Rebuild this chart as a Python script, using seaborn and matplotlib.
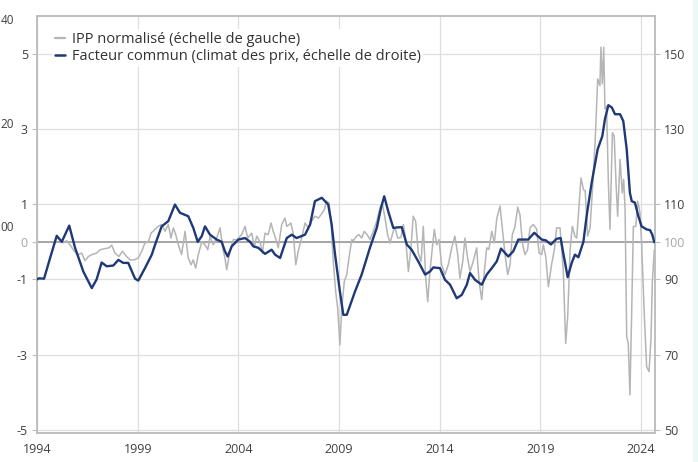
import matplotlib
matplotlib.use("Agg")
import matplotlib.pyplot as plt
from matplotlib.patches import Rectangle
from matplotlib.lines import Line2D
import seaborn as sns

# Normalised producer price index (left axis), decimal years
ipp_years = [
    1995.15, 1995.31, 1995.47, 1995.64, 1995.85, 1996.05, 1996.22, 1996.38, 1996.55, 1996.72,
    1996.96, 1997.13, 1997.38, 1997.57, 1997.71, 1997.87, 1998.07, 1998.24, 1998.45, 1998.62,
    1998.83, 1999.03, 1999.20, 1999.36, 1999.53, 1999.66, 1999.86, 2000.02, 2000.19, 2000.36,
    2000.52, 2000.65, 2000.77, 2000.89, 2001.02, 2001.18, 2001.35, 2001.51, 2001.65, 2001.76,
    2001.88, 2002.01, 2002.18, 2002.34, 2002.48, 2002.59, 2002.75, 2002.92, 2003.09, 2003.22,
    2003.33, 2003.42, 2003.58, 2003.75, 2003.92, 2004.16, 2004.33, 2004.46, 2004.66, 2004.79,
    2004.91, 2005.07, 2005.19, 2005.32, 2005.48, 2005.62, 2005.73, 2005.90, 2005.98, 2006.15,
    2006.31, 2006.40, 2006.51, 2006.61, 2006.73, 2006.85, 2006.97, 2007.14, 2007.31, 2007.47,
    2007.64, 2007.80, 2007.97, 2008.10, 2008.27, 2008.38, 2008.50, 2008.60, 2008.71, 2008.83,
    2008.93, 2009.04, 2009.13, 2009.26, 2009.38, 2009.49, 2009.63, 2009.70, 2009.87, 2009.99,
    2010.12, 2010.25, 2010.42, 2010.53, 2010.70, 2010.87, 2011.03, 2011.14, 2011.28, 2011.41,
    2011.53, 2011.69, 2011.78, 2011.91, 2012.07, 2012.19, 2012.31, 2012.44, 2012.57, 2012.68,
    2012.80, 2012.93, 2013.07, 2013.18, 2013.30, 2013.40, 2013.51, 2013.63, 2013.73, 2013.85,
    2013.96, 2014.09, 2014.26, 2014.42, 2014.59, 2014.75, 2014.89, 2015.00, 2015.14, 2015.25,
    2015.38, 2015.50, 2015.66, 2015.83, 2015.95, 2016.08, 2016.21, 2016.33, 2016.44, 2016.58,
    2016.71, 2016.83, 2016.99, 2017.10, 2017.24, 2017.37, 2017.49, 2017.60, 2017.73, 2017.87,
    2017.98, 2018.10, 2018.23, 2018.36, 2018.48, 2018.64, 2018.81, 2018.93, 2019.06, 2019.14,
    2019.26, 2019.39, 2019.56, 2019.69, 2019.80, 2019.97, 2020.13, 2020.25, 2020.35, 2020.47,
    2020.58, 2020.71, 2020.80, 2020.91, 2021.01, 2021.13, 2021.22, 2021.34, 2021.46, 2021.57,
    2021.71, 2021.84, 2021.95, 2022.00, 2022.07, 2022.14, 2022.20, 2022.28, 2022.37, 2022.45,
    2022.57, 2022.66, 2022.75, 2022.83, 2022.95, 2023.06, 2023.13, 2023.20, 2023.28, 2023.36,
    2023.44, 2023.53, 2023.61, 2023.73, 2023.83, 2023.94, 2024.02, 2024.15, 2024.27, 2024.39,
    2024.49, 2024.55, 2024.65,
]
ipp_values = [
    0.05, -0.03, 0.03, -0.08, -0.25, -0.34, -0.30, -0.50, -0.39, -0.34,
    -0.30, -0.21, -0.18, -0.16, -0.09, -0.30, -0.39, -0.25, -0.39, -0.48,
    -0.48, -0.43, -0.25, -0.03, 0.00, 0.23, 0.33, 0.41, 0.46, 0.28,
    0.46, 0.10, 0.37, 0.19, -0.08, -0.34, 0.28, -0.43, -0.61, -0.48,
    -0.70, -0.34, 0.00, -0.08, -0.21, 0.15, -0.08, 0.10, 0.37, -0.16,
    -0.43, -0.74, -0.25, 0.06, 0.05, 0.19, 0.41, 0.10, 0.23, -0.12,
    0.15, 0.00, -0.30, 0.23, 0.19, 0.50, 0.28, 0.00, -0.16, 0.46,
    0.63, 0.41, 0.45, 0.50, 0.19, -0.61, -0.25, 0.10, 0.50, 0.37,
    0.55, 0.68, 0.63, 0.72, 0.86, 1.08, 1.03, 0.55, -0.52, -1.32,
    -1.77, -2.74, -1.77, -1.05, -0.87, -0.43, 0.06, 0.03, 0.15, 0.19,
    0.10, 0.28, 0.17, 0.06, 0.28, 0.55, 0.90, 1.03, 0.63, 0.19,
    -0.03, 0.28, 0.37, 0.10, 0.12, 0.46, 0.06, -0.79, -0.16, 0.68,
    0.55, -0.30, -0.52, 0.41, -0.97, -1.59, -0.79, -0.16, 0.33, -0.08,
    0.06, -0.61, -0.87, -0.61, -0.16, 0.15, -0.34, -0.97, -0.52, 0.10,
    -0.43, -0.79, -0.52, -0.16, -1.05, -1.54, -0.79, -0.16, -0.20, 0.28,
    -0.03, 0.63, 0.95, 0.37, -0.34, -0.87, -0.61, 0.19, 0.40, 0.92,
    0.72, -0.03, -0.34, -0.21, 0.37, 0.46, 0.34, -0.30, -0.34, -0.08,
    -0.39, -1.19, -0.57, -0.21, 0.37, 0.37, -0.74, -2.70, -1.99, -0.21,
    0.41, 0.15, 0.10, 0.95, 1.70, 1.39, 1.35, 0.15, 0.37, 1.30,
    2.63, 4.33, 4.15, 5.17, 4.20, 5.17, 3.53, 3.60, 1.57, 0.33,
    2.90, 2.81, 1.57, 0.68, 2.19, 1.30, 1.66, 0.86, -2.52, -2.70,
    -4.07, -1.81, 0.41, 0.41, 1.08, 0.77, -0.03, -1.90, -3.32, -3.45,
    -2.52, -1.10, -0.21,
]

# Common factor (price climate, right axis), decimal years
factor_years = [
    1994.00, 1994.10, 1994.35, 1994.65, 1994.98, 1995.23, 1995.60, 1995.89, 1996.30, 1996.72,
    1996.96, 1997.21, 1997.46, 1997.79, 1998.04, 1998.28, 1998.53, 1998.87, 1999.03, 1999.36,
    1999.70, 1999.86, 2000.19, 2000.52, 2000.85, 2001.10, 2001.51, 2001.76, 2001.98, 2002.18,
    2002.34, 2002.59, 2002.92, 2003.17, 2003.33, 2003.47, 2003.67, 2004.00, 2004.33, 2004.58,
    2004.74, 2004.99, 2005.32, 2005.65, 2005.82, 2006.07, 2006.40, 2006.65, 2006.89, 2007.31,
    2007.56, 2007.80, 2008.14, 2008.46, 2008.63, 2008.80, 2009.04, 2009.21, 2009.38, 2009.79,
    2010.12, 2010.53, 2010.87, 2011.08, 2011.24, 2011.44, 2011.69, 2011.85, 2012.11, 2012.36,
    2012.60, 2012.93, 2013.27, 2013.51, 2013.68, 2014.01, 2014.26, 2014.51, 2014.84, 2015.09,
    2015.34, 2015.50, 2015.75, 2016.08, 2016.33, 2016.58, 2016.83, 2017.04, 2017.40, 2017.65,
    2017.90, 2018.39, 2018.69, 2019.06, 2019.26, 2019.52, 2019.80, 2020.00, 2020.13, 2020.35,
    2020.55, 2020.71, 2020.88, 2021.13, 2021.29, 2021.54, 2021.84, 2022.07, 2022.20, 2022.37,
    2022.54, 2022.70, 2022.95, 2023.11, 2023.28, 2023.44, 2023.53, 2023.69, 2023.86, 2024.02,
    2024.27, 2024.44, 2024.55, 2024.65,
]
factor_values = [
    90.0, 90.3, 90.2, 95.7, 101.6, 100.0, 104.3, 98.4, 92.1, 87.7,
    90.0, 94.5, 93.5, 93.7, 95.2, 94.4, 94.4, 90.2, 89.7, 93.0,
    96.6, 99.2, 104.1, 105.5, 109.9, 107.7, 106.8, 103.7, 100.0, 101.5,
    104.1, 101.9, 100.6, 100.0, 97.5, 96.1, 98.8, 100.6, 101.0, 100.0,
    98.8, 98.4, 96.8, 97.9, 96.6, 95.7, 101.0, 101.9, 101.0, 101.9,
    104.6, 110.8, 111.7, 109.9, 104.6, 96.6, 86.8, 80.6, 80.6, 86.8,
    91.3, 98.4, 103.7, 109.0, 112.1, 108.1, 103.7, 103.8, 103.9, 99.3,
    97.9, 94.8, 91.3, 92.1, 93.2, 93.0, 89.9, 88.6, 85.0, 85.9,
    88.6, 91.7, 89.9, 88.6, 91.3, 93.0, 94.8, 98.2, 96.1, 97.5,
    100.6, 100.6, 102.4, 100.6, 100.4, 99.3, 100.8, 101.0, 97.0, 90.6,
    94.4, 96.6, 95.9, 100.0, 106.8, 115.7, 124.6, 128.1, 132.6, 136.3,
    135.7, 133.9, 133.9, 132.1, 124.6, 113.0, 110.8, 110.4, 106.8, 104.1,
    103.3, 103.1, 101.9, 99.9,
]

year_ticks = [1994, 1999, 2004, 2009, 2014, 2019, 2024]
left_ticks = [-5, -3, -1, 0, 1, 3, 5]
right_ticks = [50, 70, 90, 100, 110, 130, 150]

labels = ["IPP normalisé (échelle de gauche)",
          "Facteur commun (climat des prix, échelle de droite)"]

# Partial axis labels along the left edge of the figure
edge_labels = ["40", "20", "00"]

GRAY = "#b5b5b5"
NAVY = "#1f3878"
GRID = "#dedede"
SPINE = "#bdbdbd"
TEXT = "#404040"
MUTED = "#a6a6a6"

sns.set_style("white")
plt.rcParams["font.family"] = ["Open Sans", "DejaVu Sans"]
plt.rcParams["font.size"] = 9

W, H = 698, 462
fig = plt.figure(figsize=(W / 100, H / 100), dpi=100)
fig.patch.set_facecolor("white")
fig.patches.append(Rectangle((693 / W, 0), 5 / W, 1, transform=fig.transFigure,
                             facecolor="#eef7f8", edgecolor="none", zorder=0))

x0, x1, ytop, ybot = 37, 655, 16, 433
ax = fig.add_axes([x0 / W, (H - ybot) / H, (x1 - x0) / W, (ybot - ytop) / H])

ppy = 20.14
ax.set_xlim(1994, 1994 + (x1 - x0) / ppy)
ylo, yhi = -5.08, 6.0
ax.set_ylim(ylo, yhi)

ax.set_xticks(year_ticks)
ax.set_yticks(left_ticks)
ax.grid(True, color=GRID, linewidth=0.9)
ax.set_axisbelow(True)
ax.axhline(0, color=MUTED, linewidth=1.4, zorder=1)

sns.lineplot(x=ipp_years, y=ipp_values, ax=ax, color=GRAY, linewidth=1.1, zorder=2)

ax2 = ax.twinx()
ax2.set_ylim(100 + 10 * ylo, 100 + 10 * yhi)
ax2.set_yticks(right_ticks)
sns.lineplot(x=factor_years, y=factor_values, ax=ax2, color=NAVY, linewidth=1.7,
             zorder=3, solid_joinstyle="round", solid_capstyle="round")

for a in (ax, ax2):
    for s in a.spines.values():
        s.set_color(SPINE)
        s.set_linewidth(1.1)
    a.set_xlabel("")
    a.set_ylabel("")

ax.tick_params(axis="both", which="both", length=3.5, width=0.8, color=SPINE,
               labelcolor=TEXT, labelsize=9, pad=3)
ax.tick_params(axis="x", pad=4)
ax2.tick_params(axis="y", length=3.5, width=0.8, color=SPINE, labelcolor=TEXT,
                labelsize=9, pad=3)
ax.set_xticklabels([str(y) for y in year_ticks])
ax.set_yticklabels([str(v) for v in left_ticks])
ax2.set_yticklabels([str(v) for v in right_ticks])
for t, v in zip(ax.get_yticklabels(), left_ticks):
    if v == 0:
        t.set_color(MUTED)
for t, v in zip(ax2.get_yticklabels(), right_ticks):
    if v == 100:
        t.set_color(MUTED)

handles = [Line2D([], [], color=GRAY, linewidth=1.6),
           Line2D([], [], color=NAVY, linewidth=1.8)]
leg = ax2.legend(handles, labels, loc="upper left", bbox_to_anchor=(0.024, 0.968),
                 frameon=True, fancybox=False, framealpha=1, facecolor="white",
                 edgecolor="none", fontsize=10.5, handlelength=0.7, handletextpad=0.45,
                 labelspacing=0.1, borderpad=0.2, borderaxespad=0)
for t in leg.get_texts():
    t.set_color("#333333")

for txt, yp in zip(edge_labels, (20, 125, 228)):
    fig.text(0.5 / W, 1 - yp / H, txt, ha="left", va="center", fontsize=8.5, color=TEXT)

fig.savefig("out.png", dpi=100)
